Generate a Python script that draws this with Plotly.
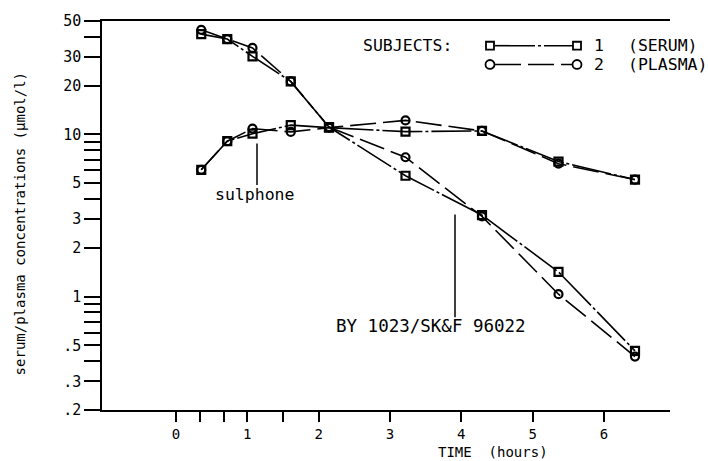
import plotly.graph_objects as go

# ---- data ----
time_h = [0.33, 0.67, 1.0, 1.5, 2.0, 3.0, 4.0, 5.0, 6.0]
parent_subj1 = [41.5, 38.7, 30.3, 21.2, 11.1, 5.56, 3.18, 1.42, 0.463]   # serum, squares
parent_subj2 = [44.1, 38.7, 34.1, 21.2, 11.1, 7.23, 3.12, 1.035, 0.427]  # plasma, circles
sulph_subj1 = [6.05, 9.08, 10.1, 11.4, 11.0, 10.4, 10.5, 6.8, 5.26]
sulph_subj2 = [6.05, 9.08, 10.86, 10.36, 11.0, 12.2, 10.5, 6.6, 5.26]

y_major = [50, 30, 20, 10, 5, 3, 2, 1, 0.5, 0.3, 0.2]
y_major_text = ["50", "30", "20", "10", "5", "3", "2", "1", ".5", ".3", ".2"]
y_minor = [40, 9, 8, 7, 6, 4, 0.9, 0.8, 0.7, 0.6, 0.4]

x_tickvals = [0, 0.33, 0.67, 1, 1.5, 2, 3, 4, 5, 6]
x_ticktext = ["0", "", "", "1", "", "2", "3", "4", "5", "6"]

FONT = "DejaVu Sans Mono"
W, H = 708, 461
L, R, T, B = 102, 670, 16, 410

def px(x):
    return (x - L) / (R - L)

def py(y):
    return (B - y) / (B - T)

SERUM_DASH = "40px,3px,3px,3px"
PLASMA_DASH = "26px,7px"

fig = go.Figure()

serum_line = dict(color="black", width=1.6, dash=SERUM_DASH)
plasma_line = dict(color="black", width=1.6, dash=PLASMA_DASH)
sq = dict(symbol="square-open", size=8, color="black", line=dict(width=2.2, color="black"))
ci = dict(symbol="circle-open", size=8, color="black", line=dict(width=2.2, color="black"))

for ys in (parent_subj1, sulph_subj1):
    fig.add_trace(go.Scatter(x=time_h, y=ys, mode="lines+markers", line=serum_line,
                             marker=sq, showlegend=False, xaxis="x", yaxis="y"))
for ys in (parent_subj2, sulph_subj2):
    fig.add_trace(go.Scatter(x=time_h, y=ys, mode="lines+markers", line=plasma_line,
                             marker=ci, showlegend=False, xaxis="x", yaxis="y"))
# empty trace to bind the tick axis
fig.add_trace(go.Scatter(x=[], y=[], xaxis="x2", yaxis="y", showlegend=False))

shapes = []
ann = []

def text(s, x, y, size=16.5, xanchor="center", angle=0):
    ann.append(dict(text=s, x=px(x), y=py(y), xref="paper", yref="paper",
                    xanchor=xanchor, yanchor="middle", textangle=angle, showarrow=False,
                    font=dict(family=FONT, size=size, color="black")))

# pointers
shapes.append(dict(type="line", xref="paper", yref="paper", x0=px(257), x1=px(257),
                   y0=py(140), y1=py(182), line=dict(color="black", width=1.5)))
shapes.append(dict(type="line", xref="paper", yref="paper", x0=px(455), x1=px(455),
                   y0=py(212), y1=py(316), line=dict(color="black", width=1.5)))
text("sulphone", 255, 192)
text("BY 1023/SK&F 96022", 431, 325, size=17.5)

# legend (custom drawn)
rows = [(41, "square", "1", "(SERUM)", SERUM_DASH), (60, "circle", "2", "(PLASMA)", PLASMA_DASH)]
text("SUBJECTS:", 361, 41, xanchor="left")
for yy, shp, num, lab, dash in rows:
    shapes.append(dict(type="line", xref="paper", yref="paper", x0=px(495), x1=px(573),
                       y0=py(yy), y1=py(yy), line=dict(color="black", width=1.6, dash=dash)))
    for cx in (490, 577):
        if shp == "square":
            shapes.append(dict(type="rect", xref="paper", yref="paper", x0=px(cx - 4), x1=px(cx + 4),
                               y0=py(yy - 4), y1=py(yy + 4), line=dict(color="black", width=1.8),
                               fillcolor="white"))
        else:
            shapes.append(dict(type="circle", xref="paper", yref="paper", x0=px(cx - 4.5), x1=px(cx + 4.5),
                               y0=py(yy - 4.5), y1=py(yy + 4.5), line=dict(color="black", width=1.8),
                               fillcolor="white"))
    text(num, 592, yy, xanchor="left")
    text(lab, 626, yy, xanchor="left")

# axis titles
text("serum/plasma concentrations (\u00b5mol/l)", 20, 222, size=14, angle=-90)
text("TIME  (hours)", 493, 453, size=14)

fig.update_layout(
    width=W, height=H,
    margin=dict(l=L, r=W - R, t=T, b=H - B),
    plot_bgcolor="white", paper_bgcolor="white",
    font=dict(family=FONT, size=15, color="black"),
    shapes=shapes, annotations=ann,
    xaxis=dict(range=[(L - 176) / 76.5, (R - 176) / 76.5], visible=False, showgrid=False,
               zeroline=False, fixedrange=True),
    xaxis2=dict(overlaying="x", anchor="y", side="bottom",
                range=[(L - 176) / 71.33, (R - 176) / 71.33],
                tickmode="array", tickvals=x_tickvals, ticktext=x_ticktext,
                ticks="outside", ticklen=10, tickwidth=1.5, tickcolor="black",
                showline=True, linewidth=1.5, linecolor="black", mirror=True,
                showgrid=False, zeroline=False,
                tickfont=dict(family=FONT, size=14, color="black")),
    yaxis=dict(type="log", range=[-0.69897, 1.69897],
               tickmode="array", tickvals=y_major + y_minor,
               ticktext=y_major_text + [""] * len(y_minor),
               ticks="outside", ticklen=16, tickwidth=1.5, tickcolor="black",
               showline=True, linewidth=1.5, linecolor="black",
               showgrid=False, zeroline=False,
               tickfont=dict(family=FONT, size=15, color="black")),
)

fig.write_html("out.html")
